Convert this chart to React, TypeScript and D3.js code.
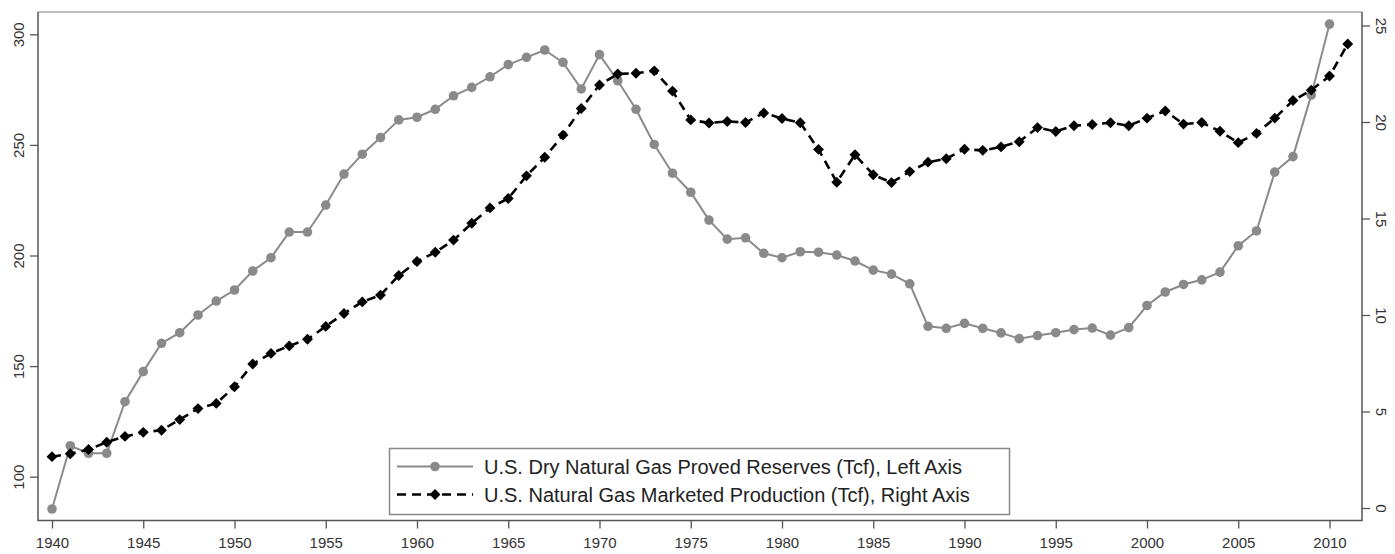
import React, { useRef, useEffect } from 'react';
import * as d3 from 'd3';

// U.S. dry natural gas proved reserves, Tcf (left axis), 1940-2010
const reserveYears = d3.range(1940, 2011);
const reserves = [
  85.4, 114.0, 110.6, 110.6, 133.9, 147.5, 160.3, 165.1, 173.1, 179.4,
  184.4, 193.0, 199.0, 210.6, 210.6, 222.8, 236.8, 245.8, 253.3, 261.3,
  262.5, 266.1, 272.2, 276.0, 280.8, 286.3, 289.6, 292.9, 287.3, 275.3,
  290.8, 279.0, 266.1, 250.2, 237.2, 228.6, 216.0, 207.4, 208.0, 201.0,
  199.0, 201.7, 201.5, 200.2, 197.5, 193.4, 191.6, 187.2, 168.0, 167.1,
  169.3, 167.1, 165.0, 162.4, 163.8, 165.1, 166.5, 167.2, 164.0, 167.4,
  177.4, 183.5, 186.9, 189.0, 192.5, 204.4, 211.1, 237.7, 244.7, 272.5,
  304.6,
];

// U.S. natural gas marketed production, Tcf (right axis), 1940-2011
const productionYears = d3.range(1940, 2012);
const production = [
  2.66, 2.81, 3.03, 3.41, 3.71, 3.92, 4.03, 4.58, 5.15, 5.42,
  6.28, 7.46, 8.01, 8.40, 8.74, 9.41, 10.08, 10.68, 11.03, 12.05,
  12.77, 13.25, 13.88, 14.75, 15.55, 16.04, 17.21, 18.17, 19.32, 20.70,
  21.92, 22.49, 22.53, 22.65, 21.60, 20.11, 19.95, 20.03, 19.97, 20.47,
  20.18, 19.96, 18.58, 16.88, 18.30, 17.27, 16.86, 17.43, 17.92, 18.10,
  18.59, 18.53, 18.71, 18.98, 19.71, 19.51, 19.81, 19.87, 19.96, 19.81,
  20.20, 20.57, 19.89, 19.97, 19.52, 18.93, 19.41, 20.20, 21.11, 21.65,
  22.38, 24.04,
];

const yearTicks = [1940, 1945, 1950, 1955, 1960, 1965, 1970, 1975, 1980, 1985, 1990, 1995, 2000, 2005, 2010];
const leftTicks = [100, 150, 200, 250, 300];
const rightTicks = [0, 5, 10, 15, 20, 25];
const legendLabels = [
  'U.S. Dry Natural Gas Proved Reserves (Tcf), Left Axis',
  'U.S. Natural Gas Marketed Production (Tcf), Right Axis',
];

const FONT = '"Liberation Sans", Arial, sans-serif';

const App = () => {
  const chartRef = useRef(null);

  useEffect(() => {
    const width = 1395;
    const height = 554;
    const box = { left: 38, right: 1362, top: 12, bottom: 520.5 };

    d3.select(chartRef.current).select('svg').remove();

    const svg = d3.select(chartRef.current)
      .append('svg')
      .attr('width', width)
      .attr('height', height)
      .style('display', 'block')
      .style('font-family', FONT);

    svg.append('rect')
      .attr('width', width)
      .attr('height', height)
      .attr('fill', '#fff');

    // scales
    const x = d3.scaleLinear().domain([1940, 2010]).range([52, 1329.5]);
    const yLeft = d3.scaleLinear().domain([100, 300]).range([476.7, 34.3]);
    const yRight = d3.scaleLinear().domain([0, 25]).range([508, 25.5]);

    // frame
    svg.append('line')
      .attr('x1', box.left).attr('x2', box.right)
      .attr('y1', box.top).attr('y2', box.top)
      .attr('stroke', '#bdbdbd').attr('stroke-width', 2);
    svg.append('path')
      .attr('d', `M${box.left},${box.top}V${box.bottom}H${box.right}V${box.top}`)
      .attr('fill', 'none')
      .attr('stroke', '#555')
      .attr('stroke-width', 1.5);

    // axes
    const styleAxis = (g) => {
      g.select('.domain').remove();
      g.selectAll('line').attr('stroke', '#555').attr('stroke-width', 1.3);
      g.selectAll('text')
        .attr('fill', '#333')
        .style('font-size', '15px')
        .style('font-family', FONT);
    };

    svg.append('g')
      .attr('transform', `translate(0,${box.bottom})`)
      .call(d3.axisBottom(x).tickValues(yearTicks).tickFormat(d3.format('d')).tickSize(8).tickPadding(9))
      .call(styleAxis);

    svg.append('g')
      .attr('transform', `translate(${box.left},0)`)
      .call(d3.axisLeft(yLeft).tickValues(leftTicks).tickSize(8))
      .call(styleAxis)
      .selectAll('text')
      .attr('transform', 'rotate(-90)')
      .attr('x', 0)
      .attr('y', -14)
      .attr('dy', 0)
      .attr('text-anchor', 'middle');

    svg.append('g')
      .attr('transform', `translate(${box.right},0)`)
      .call(d3.axisRight(yRight).tickValues(rightTicks).tickSize(8))
      .call(styleAxis)
      .selectAll('text')
      .attr('transform', 'rotate(90)')
      .attr('x', 0)
      .attr('y', -14)
      .attr('dy', 0)
      .attr('text-anchor', 'middle');

    const reserveData = reserveYears.map((yr, i) => ({ yr, v: reserves[i] }));
    const prodData = productionYears.map((yr, i) => ({ yr, v: production[i] }));

    const grey = '#8a8a8a';
    const diamond = d3.symbol().type(d3.symbolDiamond2).size(76);

    // reserves series
    svg.append('path')
      .datum(reserveData)
      .attr('fill', 'none')
      .attr('stroke', grey)
      .attr('stroke-width', 2)
      .attr('d', d3.line().x(d => x(d.yr)).y(d => yLeft(d.v)));

    svg.selectAll('.res')
      .data(reserveData)
      .enter()
      .append('circle')
      .attr('class', 'res')
      .attr('cx', d => x(d.yr))
      .attr('cy', d => yLeft(d.v))
      .attr('r', 4.8)
      .attr('fill', grey);

    // production series
    svg.append('path')
      .datum(prodData)
      .attr('fill', 'none')
      .attr('stroke', '#000')
      .attr('stroke-width', 2.6)
      .attr('stroke-dasharray', '9,6')
      .attr('d', d3.line().x(d => x(d.yr)).y(d => yRight(d.v)));

    svg.selectAll('.prod')
      .data(prodData)
      .enter()
      .append('path')
      .attr('class', 'prod')
      .attr('transform', d => `translate(${x(d.yr)},${yRight(d.v)})`)
      .attr('d', diamond)
      .attr('fill', '#000');

    // legend
    const lg = svg.append('g');
    lg.append('rect')
      .attr('x', 389.5).attr('y', 448.5)
      .attr('width', 620).attr('height', 66)
      .attr('fill', '#fff')
      .attr('stroke', '#888')
      .attr('stroke-width', 1.5);

    const rows = [466.5, 494.5];
    lg.append('line')
      .attr('x1', 397).attr('x2', 473).attr('y1', rows[0]).attr('y2', rows[0])
      .attr('stroke', grey).attr('stroke-width', 2);
    lg.append('circle')
      .attr('cx', 435).attr('cy', rows[0]).attr('r', 4.8).attr('fill', grey);
    lg.append('line')
      .attr('x1', 397).attr('x2', 473).attr('y1', rows[1]).attr('y2', rows[1])
      .attr('stroke', '#000').attr('stroke-width', 2.6).attr('stroke-dasharray', '9,6');
    lg.append('path')
      .attr('transform', `translate(435,${rows[1]})`)
      .attr('d', diamond)
      .attr('fill', '#000');

    lg.selectAll('.lbl')
      .data(legendLabels)
      .enter()
      .append('text')
      .attr('class', 'lbl')
      .attr('x', 484)
      .attr('y', (d, i) => rows[i])
      .attr('dy', '0.35em')
      .attr('fill', '#222')
      .style('font-size', '20px')
      .text(d => d);
  }, []);

  return <div ref={chartRef} style={{ position: 'absolute', left: 0, top: 0 }}></div>;
};

export default App;
